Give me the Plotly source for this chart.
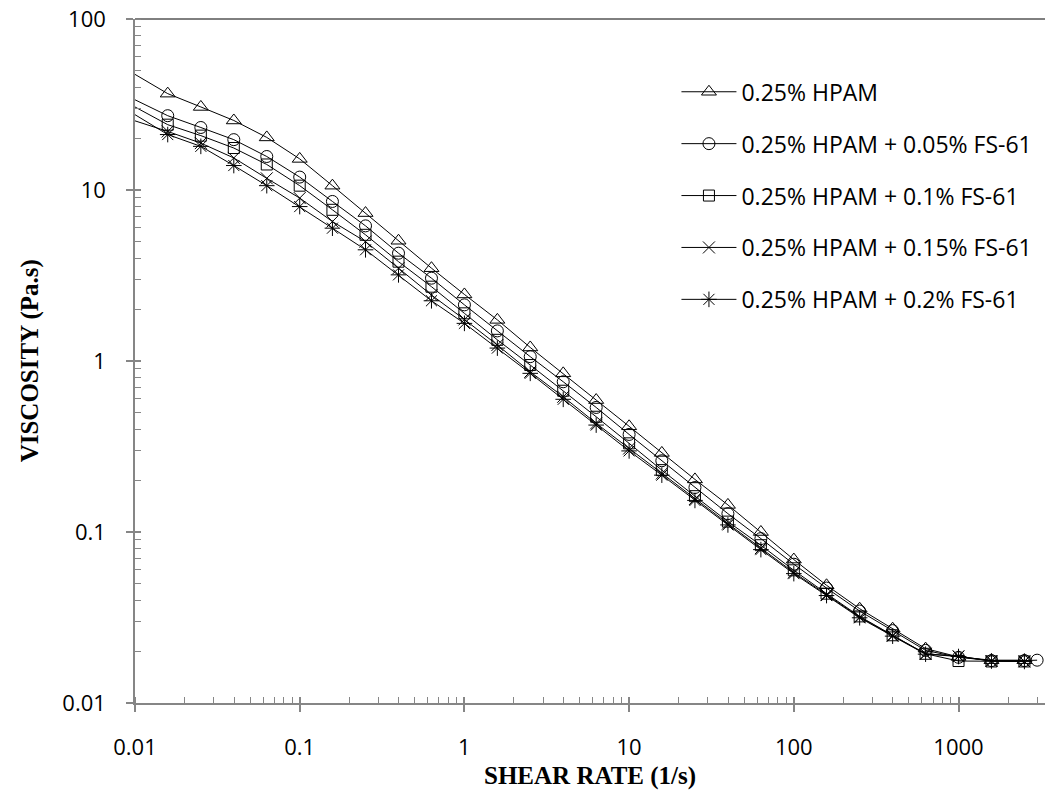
import plotly.graph_objects as go

# Shear rate (1/s): 5 points per decade (first point lies left of the axis minimum)
shear_rate = [0.00631, 0.0158, 0.0251, 0.0398, 0.0631, 0.1, 0.158, 0.251, 0.398, 0.631,
              1, 1.585, 2.51, 3.98, 6.31, 10, 15.8, 25.1, 39.8, 63.1,
              100, 158, 251, 398, 631, 1000, 1585, 2512]
shear_rate_ext = shear_rate + [3000]

visc_hpam = [61.6, 36.6, 30.6, 25.5, 20.3, 15.2, 10.6, 7.33, 5.05, 3.49,
             2.45, 1.74, 1.20, 0.847, 0.591, 0.415, 0.290, 0.203, 0.144, 0.100,
             0.069, 0.0488, 0.0356, 0.0272, 0.0208, 0.0186, 0.0178, 0.0178]
visc_fs005 = [41.8, 27.2, 23.2, 19.7, 15.7, 11.9, 8.57, 6.17, 4.27, 3.05,
              2.13, 1.50, 1.06, 0.756, 0.535, 0.372, 0.261, 0.182, 0.128, 0.0915,
              0.0648, 0.0470, 0.0345, 0.0265, 0.0203, 0.0185, 0.0177, 0.0177, 0.0178]
visc_fs01 = [38.9, 24.1, 20.8, 17.6, 14.1, 10.6, 7.66, 5.47, 3.81, 2.72,
             1.90, 1.33, 0.947, 0.670, 0.472, 0.330, 0.230, 0.162, 0.115, 0.0837,
             0.0597, 0.0436, 0.0321, 0.0249, 0.0194, 0.0176, 0.0175, 0.0175]
visc_fs015 = [29.3, 22.0, 18.8, 15.4, 11.7, 8.97, 6.54, 4.99, 3.49, 2.43,
              1.75, 1.24, 0.865, 0.618, 0.432, 0.308, 0.220, 0.156, 0.112, 0.0805,
              0.0580, 0.0430, 0.0318, 0.0248, 0.0194, 0.0188, 0.0176, 0.0175]
visc_fs02 = [36.1, 21.1, 18.0, 13.9, 10.6, 8.0, 5.98, 4.47, 3.19, 2.25,
             1.66, 1.19, 0.847, 0.597, 0.422, 0.298, 0.215, 0.153, 0.110, 0.0789,
             0.0571, 0.0425, 0.0315, 0.0246, 0.0193, 0.0187, 0.0176, 0.0175]

series_names = ["0.25% HPAM", "0.25% HPAM + 0.05% FS-61", "0.25% HPAM + 0.1% FS-61",
                "0.25% HPAM + 0.15% FS-61", "0.25% HPAM + 0.2% FS-61"]
x_ticks = [0.01, 0.1, 1, 10, 100, 1000]
x_tick_text = ["0.01", "0.1", "1", "10", "100", "1000"]
y_ticks = [0.01, 0.1, 1, 10, 100]
y_tick_text = ["0.01", "0.1", "1", "10", "100"]
x_title = "SHEAR RATE (1/s)"
y_title = "VISCOSITY (Pa.s)"

series_x = [shear_rate, shear_rate_ext, shear_rate, shear_rate, shear_rate]
series_y = [visc_hpam, visc_fs005, visc_fs01, visc_fs015, visc_fs02]
symbols = ["triangle-up-open", "circle-open", "square-open", "x-thin-open", "asterisk-open"]
sizes = [13, 12, 11, 12, 13]

AX = "#868686"
TICKFONT = dict(family="Open Sans, Lato, sans-serif", size=22, color="#000000")
TITLEFONT = dict(family="Liberation Serif, Times New Roman, serif", size=25, color="black")

fig = go.Figure()
for i, (xs, ys, name) in enumerate(zip(series_x, series_y, series_names)):
    fig.add_trace(go.Scatter(
        x=xs, y=ys, name=name, mode="lines+markers",
        legendgroup=f"g{i}",
        line=dict(color="black", width=1),
        marker=dict(symbol=symbols[i], size=sizes[i], color="black",
                    line=dict(color="black", width=1)),
        cliponaxis=True,
    ))

# invisible helper trace so the overlaid axes (inner half of major ticks) are drawn
fig.add_trace(go.Scatter(x=shear_rate, y=visc_hpam, xaxis="x2", yaxis="y2",
                         mode="lines", line=dict(width=0), opacity=0,
                         showlegend=False, hoverinfo="skip"))

xrange = [-2, 3.525]
yrange = [-2, 2]

fig.update_layout(
    width=1051, height=796,
    margin=dict(l=135, r=6, t=19, b=93),
    paper_bgcolor="white", plot_bgcolor="white",
    showlegend=True,
    legend=dict(x=0.595, y=0.925, xanchor="left", yanchor="top",
                font=dict(family="Open Sans, Lato, sans-serif", size=23, color="black"),
                bgcolor="rgba(0,0,0,0)", tracegroupgap=19, itemwidth=55),
    xaxis=dict(type="log", range=xrange, tickvals=x_ticks, ticktext=x_tick_text,
               showline=True, linecolor=AX, linewidth=1.5, showgrid=False, zeroline=False,
               ticks="outside", ticklen=7, tickwidth=1.5, tickcolor=AX,
               ticklabelstandoff=17, tickfont=TICKFONT, automargin=False,
               minor=dict(ticks="inside", ticklen=6, tickwidth=1, tickcolor=AX,
                          dtick="D1", showgrid=False)),
    yaxis=dict(type="log", range=yrange, tickvals=y_ticks, ticktext=y_tick_text,
               showline=True, linecolor=AX, linewidth=1.5, showgrid=False, zeroline=False,
               ticks="outside", ticklen=7, tickwidth=1.5, tickcolor=AX,
               ticklabelstandoff=16, tickfont=TICKFONT, automargin=False,
               minor=dict(ticks="inside", ticklen=6, tickwidth=1, tickcolor=AX,
                          dtick="D1", showgrid=False)),
    xaxis2=dict(type="log", range=xrange, overlaying="x", anchor="y", side="bottom",
                tickvals=x_ticks, showticklabels=False, ticks="inside", ticklen=6,
                tickwidth=1.5, tickcolor=AX, showline=False, showgrid=False, zeroline=False),
    yaxis2=dict(type="log", range=yrange, overlaying="y", anchor="x", side="left",
                tickvals=y_ticks, showticklabels=False, ticks="inside", ticklen=6,
                tickwidth=1.5, tickcolor=AX, showline=False, showgrid=False, zeroline=False),
    shapes=[dict(type="line", xref="paper", yref="paper", x0=0, x1=1, y0=1, y1=1,
                 line=dict(color="black", width=1), layer="below")],
    annotations=[
        dict(text=f"<b>{x_title}</b>", xref="paper", yref="paper", x=0.5, y=-0.107,
             xanchor="center", yanchor="middle", showarrow=False, font=TITLEFONT),
        dict(text=f"<b>{y_title}</b>", xref="paper", yref="paper", x=-0.115, y=0.5,
             xanchor="center", yanchor="middle", textangle=-90, showarrow=False,
             font=TITLEFONT),
    ],
)

fig.write_html("out.html")
